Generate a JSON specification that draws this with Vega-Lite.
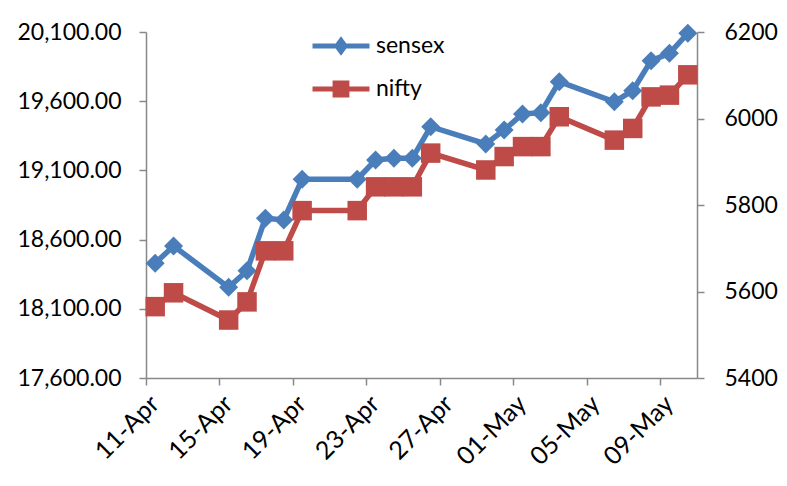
{
  "$schema": "https://vega.github.io/schema/vega-lite/v6.json",
  "autosize": "none",
  "width": 551,
  "height": 346,
  "padding": {"left": 146, "top": 32, "right": 90, "bottom": 108},
  "background": "white",
  "data": {"values": [
    {"date": "2013-04-11T12:00:00", "sensex": 18429, "nifty": 5565},
    {"date": "2013-04-12T12:00:00", "sensex": 18554, "nifty": 5597},
    {"date": "2013-04-15T12:00:00", "sensex": 18255, "nifty": 5534},
    {"date": "2013-04-16T12:00:00", "sensex": 18375, "nifty": 5576},
    {"date": "2013-04-17T12:00:00", "sensex": 18754, "nifty": 5694},
    {"date": "2013-04-18T12:00:00", "sensex": 18742, "nifty": 5694},
    {"date": "2013-04-19T12:00:00", "sensex": 19036, "nifty": 5787},
    {"date": "2013-04-22T12:00:00", "sensex": 19036, "nifty": 5787},
    {"date": "2013-04-23T12:00:00", "sensex": 19175, "nifty": 5842},
    {"date": "2013-04-24T12:00:00", "sensex": 19187, "nifty": 5842},
    {"date": "2013-04-25T12:00:00", "sensex": 19187, "nifty": 5842},
    {"date": "2013-04-26T12:00:00", "sensex": 19416, "nifty": 5920},
    {"date": "2013-04-29T12:00:00", "sensex": 19291, "nifty": 5881},
    {"date": "2013-04-30T12:00:00", "sensex": 19392, "nifty": 5912},
    {"date": "2013-05-01T12:00:00", "sensex": 19508, "nifty": 5935},
    {"date": "2013-05-02T12:00:00", "sensex": 19517, "nifty": 5935},
    {"date": "2013-05-03T12:00:00", "sensex": 19741, "nifty": 6004},
    {"date": "2013-05-06T12:00:00", "sensex": 19596, "nifty": 5950},
    {"date": "2013-05-07T12:00:00", "sensex": 19676, "nifty": 5977},
    {"date": "2013-05-08T12:00:00", "sensex": 19893, "nifty": 6050},
    {"date": "2013-05-09T12:00:00", "sensex": 19946, "nifty": 6054},
    {"date": "2013-05-10T12:00:00", "sensex": 20091, "nifty": 6101}
  ]},
  "encoding": {
    "x": {
      "field": "date", "type": "temporal",
      "scale": {"domain": [{"year": 2013, "month": 4, "date": 11}, {"year": 2013, "month": 5, "date": 11}], "nice": false},
      "axis": {
        "title": null, "format": "%d-%b", "labelAngle": -45, "labelFlush": false, "labelOverlap": false,
        "values": [
          {"year": 2013, "month": 4, "date": 11}, {"year": 2013, "month": 4, "date": 15},
          {"year": 2013, "month": 4, "date": 19}, {"year": 2013, "month": 4, "date": 23},
          {"year": 2013, "month": 4, "date": 27}, {"year": 2013, "month": 5, "date": 1},
          {"year": 2013, "month": 5, "date": 5}, {"year": 2013, "month": 5, "date": 9}
        ],
        "labelPadding": 6, "labelFontSize": 25, "labelDx": 12, "labelDy": 8
      }
    },
    "color": {
      "scale": {"domain": ["sensex", "nifty"], "range": ["#4a7ebb", "#be4b48"]},
      "legend": {
        "title": null, "orient": "none", "legendX": 174, "legendY": -7,
        "symbolSize": 1369, "symbolStrokeWidth": 5, "rowPadding": 6,
        "labelFont": "Lato", "labelFontSize": 23, "labelColor": "black", "labelOffset": 14,
        "encode": {"symbols": {"update": {
          "shape": {"signal": "datum.value === 'sensex' ? 'M-1.54,0H1.54M0,-0.3L0.22,0L0,0.3L-0.22,0Z' : 'M-1.54,0H1.54M-0.32,-0.32H0.32V0.32H-0.32Z'"},
          "fill": {"signal": "datum.value === 'sensex' ? '#4a7ebb' : '#be4b48'"},
          "stroke": {"signal": "datum.value === 'sensex' ? '#4a7ebb' : '#be4b48'"},
          "opacity": {"value": 1}
        }}}
      }
    }
  },
  "layer": [
    {
      "mark": {"type": "line", "strokeWidth": 5.5, "point": {"shape": "diamond", "size": 360, "filled": true, "opacity": 1, "strokeWidth": 0}},
      "encoding": {
        "y": {"field": "sensex", "type": "quantitative",
          "scale": {"domain": [17600, 20100], "nice": false, "zero": false},
          "axis": {"orient": "left", "title": null, "format": ",.2f", "values": [17600, 18100, 18600, 19100, 19600, 20100], "labelPadding": 18}},
        "color": {"datum": "sensex"}
      }
    },
    {
      "mark": {"type": "line", "strokeWidth": 5.5, "point": {"shape": "square", "size": 380, "filled": true, "opacity": 1, "strokeWidth": 0}},
      "encoding": {
        "y": {"field": "nifty", "type": "quantitative",
          "scale": {"domain": [5400, 6200], "nice": false, "zero": false},
          "axis": {"orient": "right", "title": null, "format": "d", "values": [5400, 5600, 5800, 6000, 6200], "labelPadding": 20}},
        "color": {"datum": "nifty"}
      }
    }
  ],
  "resolve": {"scale": {"y": "independent"}},
  "config": {
    "view": {"stroke": null},
    "axis": {
      "grid": false, "labelFont": "Lato", "labelFontSize": 23, "labelColor": "black",
      "domainColor": "#888888", "domainWidth": 1.5, "tickColor": "#888888", "tickWidth": 1.5, "tickSize": 7
    }
  }
}
